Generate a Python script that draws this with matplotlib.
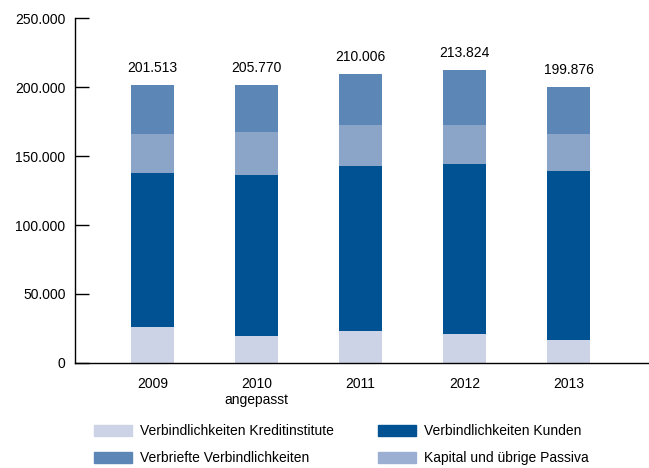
import matplotlib.pyplot as plt
import numpy as np
from matplotlib.ticker import FuncFormatter
from matplotlib.patches import Patch

plt.rcParams['font.family'] = ['Liberation Sans', 'DejaVu Sans']
plt.rcParams['font.size'] = 10

years = ['2009', '2010\nangepasst', '2011', '2012', '2013']
totals = ['201.513', '205.770', '210.006', '213.824', '199.876']

# Werte (Mio. EUR)
kreditinstitute = [26100, 19600, 23200, 21000, 16700]
kunden = [111600, 116600, 119600, 123200, 122400]
kapital = [28300, 31200, 29700, 28300, 26800]
verbriefte = [35500, 34100, 37000, 39900, 34100]

c_kredit = '#cdd3e6'
c_kunden = '#005293'
c_kapital = '#8ba5c9'
c_verbriefte = '#5b86b6'

fig = plt.figure(figsize=(6.49, 4.68), dpi=100)
ax = fig.add_axes([0.1148, 0.2244, 0.883, 0.737])

x = np.arange(len(years))
w = 0.41
bottom = np.zeros(len(years))
for vals, col in [(kreditinstitute, c_kredit), (kunden, c_kunden),
                  (kapital, c_kapital), (verbriefte, c_verbriefte)]:
    ax.bar(x, vals, w, bottom=bottom, color=col, linewidth=0)
    bottom += np.array(vals)

for xi, top, lab in zip(x, bottom, totals):
    ax.annotate(lab, (xi, top), xytext=(0, 7), textcoords='offset points',
                ha='center', va='bottom')

ax.set_xlim(-0.75, 4.76)
ax.set_ylim(0, 250000)
ax.set_yticks(range(0, 250001, 50000))
ax.yaxis.set_major_formatter(FuncFormatter(lambda v, p: f'{int(v):,}'.replace(',', '.')))
ax.set_xticks(x)
ax.set_xticklabels(years)
ax.tick_params(axis='x', length=0, pad=10)
ax.tick_params(axis='y', direction='in', length=10, pad=6.5, width=1)
ax.spines['top'].set_visible(False)
ax.spines['right'].set_visible(False)
for s in ['left', 'bottom']:
    ax.spines[s].set_linewidth(1)

legend_kw = dict(loc='upper left', frameon=False, handlelength=2.75, handleheight=0.86,
                 handletextpad=0.55, labelspacing=0.95, borderpad=0, borderaxespad=0)
col1 = [Patch(color=c_kredit, label='Verbindlichkeiten Kreditinstitute'),
        Patch(color=c_verbriefte, label='Verbriefte Verbindlichkeiten')]
col2 = [Patch(color=c_kunden, label='Verbindlichkeiten Kunden'),
        Patch(color='#9aafd2', label='Kapital und übrige Passiva')]
fig.legend(handles=col1, bbox_to_anchor=(94 / 649, 1 - 424 / 468), **legend_kw)
fig.legend(handles=col2, bbox_to_anchor=(378 / 649, 1 - 424 / 468), **legend_kw)

fig.savefig('out.png', dpi=100)
